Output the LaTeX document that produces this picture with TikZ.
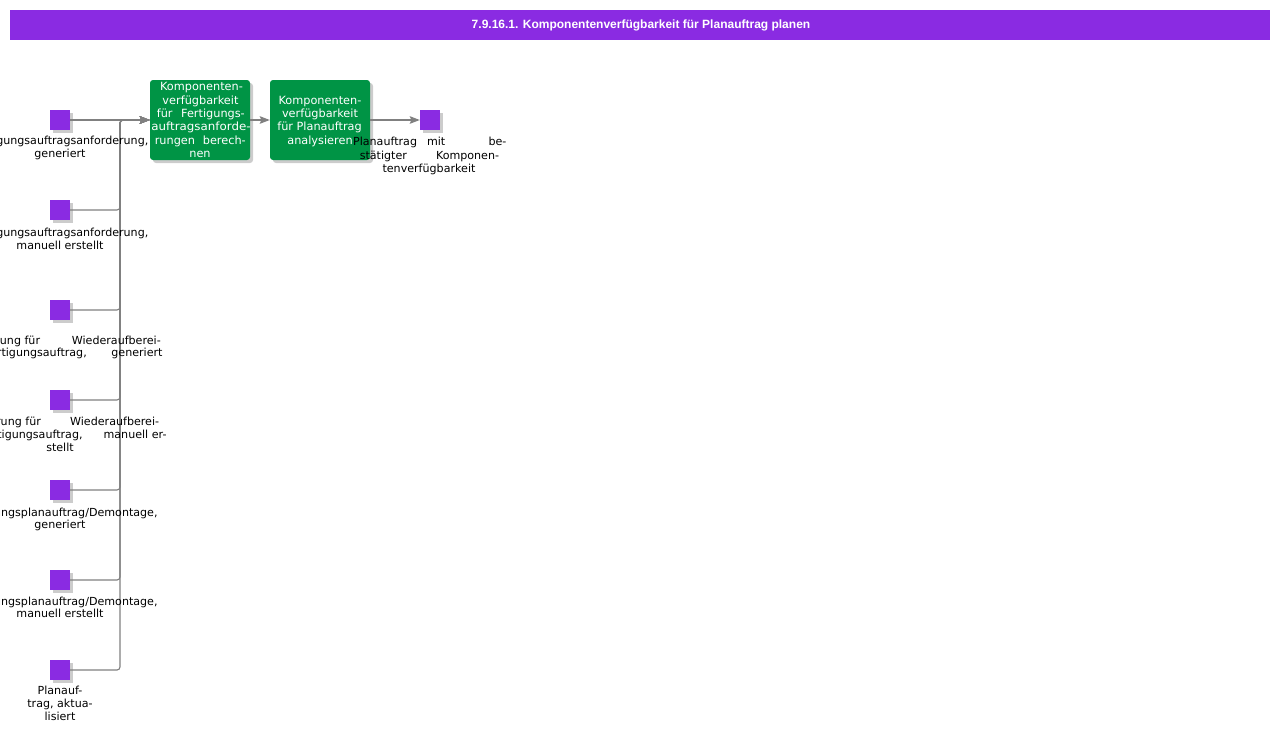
\documentclass[tikz,border=0pt]{standalone}
\usepackage{fontspec}
\setmainfont{DejaVu Sans}
\newfontfamily\titlefont{Liberation Sans}
\usetikzlibrary{shadows,arrows.meta}
\definecolor{evtcol}{HTML}{8A2BE2}
\definecolor{fnccol}{HTML}{009445}
\definecolor{linecol}{HTML}{808080}
\newcommand\tl[4]{\node[#1,anchor=base] (#2) at (#3) {#4};}
\newcommand\jl[6]{\node[#1,anchor=base east] (#2) at (#3) {\hbox to #4pt{#5\hfil #6}};}
\begin{document}
\begin{tikzpicture}[x=1pt,y=-1pt,
  shd/.style={drop shadow={shadow xshift=3pt,shadow yshift=-3pt,fill=black,opacity=0.2}},
  evt/.style={fill=evtcol,minimum size=20pt,inner sep=0pt,shd},
  fnc/.style={fill=fnccol,rounded corners=3pt,minimum width=100pt,minimum height=80pt,inner sep=0pt,shd},
  lbl/.style={font=\fontsize{11.1}{13}\selectfont,inner sep=0pt,text=black},
  wlbl/.style={font=\fontsize{11.3}{13}\selectfont,inner sep=0pt,text=white},
  conn/.style={draw=linecol,line width=1.1pt,rounded corners=3pt,-{Stealth[length=10pt,width=7.5pt,inset=1.5pt]}},
  bar/.style={fill=evtcol,minimum width=1260pt,minimum height=30pt,inner sep=0pt,anchor=north west},
  ttl/.style={text=white,inner sep=0pt,font=\titlefont\bfseries\fontsize{12}{14}\selectfont}]
\useasboundingbox (0,0) rectangle (1280,734);
\fill[white] (0,0) rectangle (1280,734);
% title
\node[bar] (title) at (10,10) {};
\node[ttl] (titletext) at (641,25) {7.9.16.1. Komponentenverfügbarkeit für Planauftrag planen};
% events
\node[evt] (e1) at (60,120) {};
\node[evt] (e2) at (60,210) {};
\node[evt] (e3) at (60,310) {};
\node[evt] (e4) at (60,400) {};
\node[evt] (e5) at (60,490) {};
\node[evt] (e6) at (60,580) {};
\node[evt] (e7) at (60,670) {};
\node[evt] (e8) at (430,120) {};
% functions
\node[fnc] (f1) at (200,120) {};
\node[fnc] (f2) at (320,120) {};
\coordinate (bus) at (120,120);
% connectors
\draw[conn] (e1.east) -- (f1.west);
\foreach \e in {e2,e3,e4,e5,e6,e7}{\draw[conn] (\e.east) -| (bus) -- (f1.west);}
\draw[conn] (f1.east) -- (f2.west);
\draw[conn] (f2.east) -- (e8.west);
% function texts
\tl{wlbl}{f1a}{201.5,90.7}{Komponenten-}
\tl{wlbl}{f1b}{200.5,104}{verfügbarkeit}
\jl{wlbl}{f1c}{245,117.3}{88}{für}{Fertigungs-}
\tl{wlbl}{f1d}{201,130.7}{\scalebox{1.05}[1]{auftragsanforde-}}
\jl{wlbl}{f1e}{246,144}{91}{rungen}{berech-}
\tl{wlbl}{f1f}{200,157.3}{nen}
\tl{wlbl}{f2a}{320,104}{Komponenten-}
\tl{wlbl}{f2b}{320,117.3}{verfügbarkeit}
\tl{wlbl}{f2c}{319.5,130.7}{für Planauftrag}
\tl{wlbl}{f2d}{320,144}{analysieren}
% event labels
\tl{lbl}{l1a}{60,144}{Fertigungsauftragsanforderung,}
\tl{lbl}{l1b}{60,157}{generiert}
\tl{lbl}{l2a}{60,236}{Fertigungsauftragsanforderung,}
\tl{lbl}{l2b}{60,249}{manuell erstellt}
\jl{lbl}{l3a}{161,344}{209}{Anforderung für}{Wiederaufberei-}
\jl{lbl}{l3b}{162.7,356}{207.5}{tungsfertigungsauftrag,}{generiert}
\jl{lbl}{l4a}{159.3,425}{206.5}{Anforderung für}{Wiederaufberei-}
\jl{lbl}{l4b}{166.7,438}{215.7}{tungsfertigungsauftrag,}{manuell er-}
\tl{lbl}{l4c}{60,451}{stellt}
\tl{lbl}{l5a}{60,516}{Fertigungsplanauftrag/Demontage,}
\tl{lbl}{l5b}{60,528.5}{generiert}
\tl{lbl}{l6a}{60,605}{Fertigungsplanauftrag/Demontage,}
\tl{lbl}{l6b}{60,617.5}{manuell erstellt}
\tl{lbl}{l7a}{60,694}{Planauf-}
\tl{lbl}{l7b}{60,707.3}{trag, aktua-}
\tl{lbl}{l7c}{60,720}{lisiert}
\jl{lbl}{l8a}{506.7,145.7}{153.4}{Planauftrag\hskip10pt mit}{be-}
\jl{lbl}{l8b}{499.3,159}{139.3}{stätigter}{Komponen-}
\tl{lbl}{l8c}{429,172.3}{tenverfügbarkeit}
\end{tikzpicture}
\end{document}
